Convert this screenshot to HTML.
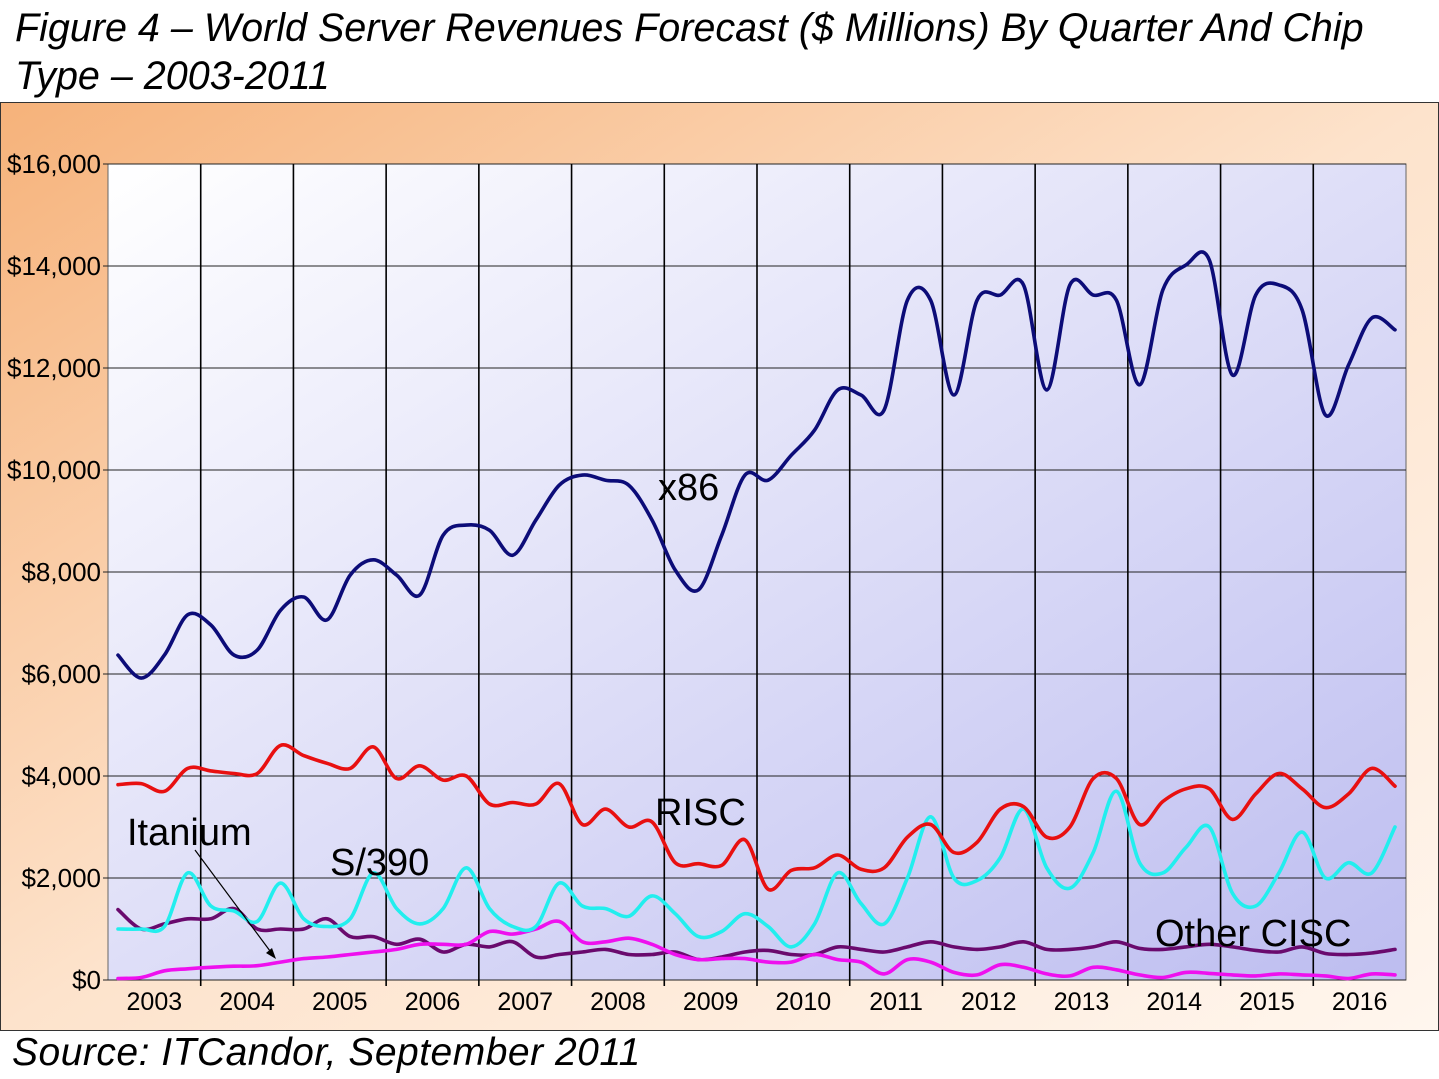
<!DOCTYPE html>
<html><head><meta charset="utf-8">
<style>
html,body{margin:0;padding:0;background:#fff;}
body{width:1439px;height:1079px;overflow:hidden;position:relative;font-family:"Liberation Sans","DejaVu Sans",sans-serif;}
.title{position:absolute;left:15px;top:4px;font-size:39.5px;font-style:italic;line-height:48px;color:#000;white-space:nowrap;}
.source{position:absolute;left:12px;top:1031px;font-size:39px;font-style:italic;color:#000;white-space:nowrap;letter-spacing:0.5px;}
</style></head>
<body>
<div class="title">Figure 4 – World Server Revenues Forecast ($ Millions) By Quarter And Chip<br>Type – 2003-2011</div>
<svg id="chart" width="1439" height="1079" style="position:absolute;left:0;top:0" xmlns="http://www.w3.org/2000/svg">
<defs>
<linearGradient id="outerG" x1="0" y1="0" x2="1" y2="1">
<stop offset="0" stop-color="#f6b27a"/><stop offset="0.5" stop-color="#fde3cc"/><stop offset="1" stop-color="#fff6ee"/>
</linearGradient>
<linearGradient id="plotG" x1="0" y1="0" x2="1" y2="1">
<stop offset="0" stop-color="#ffffff"/><stop offset="1" stop-color="#bdbdf0"/>
</linearGradient>
</defs>
<rect x="0.5" y="102.5" width="1438" height="928" fill="url(#outerG)" stroke="#333" stroke-width="1"/>
<rect x="108" y="164" width="1298" height="816" fill="url(#plotG)" stroke="#666" stroke-width="1"/>
<g id="grid"></g><g id="axes"></g><g id="series"></g>
<g font-family="'Liberation Sans','DejaVu Sans',sans-serif" fill="#000">
<text x="658" y="500" font-size="38">x86</text>
<text x="655" y="825" font-size="38">RISC</text>
<text x="127" y="845" font-size="38">Itanium</text>
<text x="330" y="875" font-size="38">S/390</text>
<text x="1155" y="946" font-size="38">Other CISC</text>
<line x1="195" y1="850" x2="273" y2="955" stroke="#000" stroke-width="1.2"/>
<polygon points="276,959 266,953 272,948" fill="#000"/>
</g>
</svg>
<div class="source">Source: ITCandor, September 2011</div>
<script>
const years = ["2003","2004","2005","2006","2007","2008","2009","2010","2011","2012","2013","2014","2015","2016"];
const yTicks = [0,2000,4000,6000,8000,10000,12000,14000,16000];
const yTickLabels = ["$0","$2,000","$4,000","$6,000","$8,000","$10,000","$12,000","$14,000","$16,000"];
const x86 = [6370,5920,6370,7160, 6960,6370,6470,7250, 7510,7060,7940,8240, 7940,7550,8720,8920, 8820,8330,9020,9700, 9900,9800,9700,9020, 8040,7650,8720,9900, 9800,10290,10780,11570, 11470,11180,13330,13330, 11470,13330,13430,13630, 11570,13630,13430,13330, 11670,13530,14020,14120, 11860,13430,13630,13140, 11080,12060,12980,12750];
const risc = [3830,3850,3700,4150, 4100,4050,4050,4600, 4400,4250,4150,4570, 3950,4200,3920,4000, 3450,3480,3450,3850, 3050,3350,3000,3100, 2300,2280,2250,2750, 1780,2150,2200,2450, 2170,2200,2800,3050, 2500,2700,3350,3400, 2800,3000,3950,3950, 3050,3500,3750,3750, 3150,3650,4050,3750, 3380,3650,4150,3800];
const s390 = [1000,1000,1050,2100, 1450,1350,1150,1900, 1200,1050,1200,2100, 1400,1100,1400,2200, 1400,1050,1050,1900, 1450,1400,1250,1650, 1300,850,950,1300, 1050,650,1100,2100, 1500,1100,2000,3200, 2000,1950,2400,3350, 2200,1800,2500,3700, 2300,2100,2600,3000, 1700,1450,2100,2900, 2000,2300,2100,3000];
const otherCisc = [1380,1000,1100,1200, 1200,1400,1000,1000, 1000,1200,850,850, 700,800,550,700, 650,750,450,500, 550,600,500,500, 550,400,450,550, 580,500,500,650, 600,550,650,750, 650,600,650,750, 600,600,650,750, 620,600,650,700, 650,580,550,650, 520,500,530,600];
const itanium = [30,50,180,220, 250,270,280,350, 420,450,500,550, 600,700,700,700, 950,900,1000,1150, 750,750,820,700, 500,400,420,420, 350,350,500,400, 350,120,400,350, 150,100,300,250, 120,80,250,200, 100,50,150,130, 100,80,120,100, 80,30,120,100];

const NS="http://www.w3.org/2000/svg";
const PL=108, PR=1406, PT=164, PB=980;
const yScale = v => PB - (v/16000)*(PB-PT);
const yearW = (PR-PL)/years.length;
const xQ = q => 118 + q*((1395-118)/55);
function mk(tag, attrs, parent){const e=document.createElementNS(NS,tag);for(const k in attrs)e.setAttribute(k,attrs[k]);parent.appendChild(e);return e;}
const grid=document.getElementById('grid'), axes=document.getElementById('axes'), ser=document.getElementById('series');
yTicks.forEach((t,i)=>{
  const y=yScale(t);
  const l=mk('line',{x1:PL,x2:PR,y1:y,y2:y,stroke:'#222','stroke-width':1},grid);
  
  
  const tx=mk('text',{x:101,y:y+9,'text-anchor':'end','font-size':26,fill:'#000'},axes);
  tx.textContent=yTickLabels[i];
  
  
  const tk=mk('line',{x1:PL-5,x2:PL,y1:y,y2:y,stroke:'#222'},axes);
  
  
});
years.forEach((yr,i)=>{
  const x=PL+i*yearW;
  if(i>0){
    const l=mk('line',{x1:x,x2:x,y1:PT,y2:PB+6,stroke:'#000','stroke-width':1.6},grid);
    
    
  }
  const tx=mk('text',{x:x+yearW/2,y:1010,'text-anchor':'middle','font-size':25,fill:'#000'},axes);
  tx.textContent=yr;
  
  
});
function smoothPath(vals){
  const p=vals.map((v,i)=>[xQ(i),yScale(v)]);
  let d='M'+p[0][0].toFixed(1)+','+p[0][1].toFixed(1);
  for(let i=0;i<p.length-1;i++){
    const p0=p[i-1]||p[i], p1=p[i], p2=p[i+1], p3=p[i+2]||p2;
    const c1=[p1[0]+(p2[0]-p0[0])/6, p1[1]+(p2[1]-p0[1])/6];
    const c2=[p2[0]-(p3[0]-p1[0])/6, p2[1]-(p3[1]-p1[1])/6];
    d+=' C'+c1[0].toFixed(1)+','+c1[1].toFixed(1)+' '+c2[0].toFixed(1)+','+c2[1].toFixed(1)+' '+p2[0].toFixed(1)+','+p2[1].toFixed(1);
  }
  return d;
}
const seriesList=[
  [otherCisc,'#6a0a6e','series-other-cisc'],
  [itanium,'#ee10ee','series-itanium'],
  [s390,'#22eeee','series-s390'],
  [risc,'#e81010','series-risc'],
  [x86,'#0c0c78','series-x86']
];
seriesList.forEach(([vals,col,name])=>{
  const p=mk('path',{d:smoothPath(vals),fill:'none',stroke:col,'stroke-width':3.6,'stroke-linejoin':'round','stroke-linecap':'round'},ser);
  
  
});
</script>
</body></html>
